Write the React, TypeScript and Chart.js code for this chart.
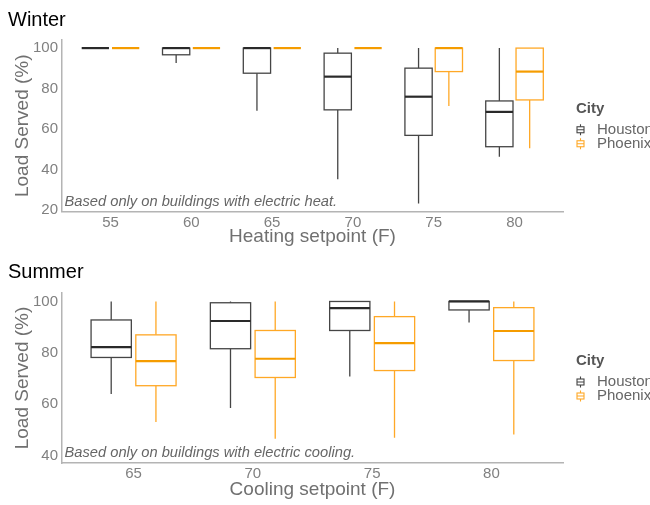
import { useEffect, useRef } from 'react';
import { Chart, registerables } from 'chart.js';

Chart.register(...registerables);

const FONT = '"Liberation Sans", Arial, Helvetica, sans-serif';

// ---------- Winter data ----------
const winterSetpoints = ['55', '60', '65', '70', '75', '80'];
const winterHoustonLow = [100, 92.6, 69.1, 35.2, 23.3, 46.4];
const winterHoustonQ1 = [100, 96.7, 87.6, 69.5, 56.9, 51.3];
const winterHoustonMedian = [100, 100, 100, 85.9, 76.0, 68.5];
const winterHoustonQ3 = [100, 100, 100, 97.5, 90.1, 73.9];
const winterHoustonHigh = [100, 100, 100, 100, 100, 100];

const winterPhoenixLow = [100, 100, 100, 100, 71.4, 50.5];
const winterPhoenixQ1 = [100, 100, 100, 100, 88.4, 74.4];
const winterPhoenixMedian = [100, 100, 100, 100, 100, 88.4];
const winterPhoenixQ3 = [100, 100, 100, 100, 100, 100];
const winterPhoenixHigh = [100, 100, 100, 100, 100, 100];

const winterYTicks = [20, 40, 60, 80, 100];

// ---------- Summer data ----------
const summerSetpoints = ['65', '70', '75', '80'];
const summerHoustonLow = [64.0, 58.5, 70.8, 91.8];
const summerHoustonQ1 = [78.2, 81.6, 88.7, 96.7];
const summerHoustonMedian = [82.2, 92.4, 97.4, 100];
const summerHoustonQ3 = [92.8, 99.5, 100, 100];
const summerHoustonHigh = [100, 100, 100, 100];

const summerPhoenixLow = [53.1, 46.5, 46.9, 48.2];
const summerPhoenixQ1 = [67.2, 70.4, 73.1, 77.0];
const summerPhoenixMedian = [76.8, 77.7, 83.8, 88.5];
const summerPhoenixQ3 = [87.0, 88.7, 94.1, 97.6];
const summerPhoenixHigh = [100, 100, 100, 100];

const summerYTicks = [40, 60, 80, 100];

const cities = ['Houston', 'Phoenix'];
const cityColors = ['#454545', '#FFA826'];
const cityMedianColors = ['#2a2a2a', '#F59C00'];

type Group = {
  label: string;
  color: string;
  medianColor: string;
  offset: number;
  low: number[];
  q1: number[];
  median: number[];
  q3: number[];
  high: number[];
};

type PanelCfg = {
  title: string;
  xTitle: string;
  note: string;
  noteY: number;
  cats: string[];
  yTicks: number[];
  yMin: number;
  yMax: number;
  groups: Group[];
  height: number;
  titlePad: { top: number; bottom: number };
  xAxisHeight: number;
  xTitlePadBottom: number;
};

const BOX_HALF = 0.16875;

function makeBoxPlugin(cfg: PanelCfg) {
  return {
    id: 'boxplotDraw',
    afterDatasetsDraw(chart: any) {
      const { ctx, chartArea } = chart;
      const x = chart.scales.x;
      const y = chart.scales.y;
      ctx.save();
      // annotation text
      ctx.font = `italic 14.7px ${FONT}`;
      ctx.fillStyle = '#666666';
      ctx.textAlign = 'left';
      ctx.textBaseline = 'middle';
      ctx.fillText(cfg.note, chartArea.left + 2.5, y.getPixelForValue(cfg.noteY));

      cfg.groups.forEach((g) => {
        g.median.forEach((_, i) => {
          const xv = i + 1 + g.offset;
          const xc = x.getPixelForValue(xv);
          const xl = x.getPixelForValue(xv - BOX_HALF);
          const xr = x.getPixelForValue(xv + BOX_HALF);
          const pLow = y.getPixelForValue(g.low[i]);
          const pQ1 = y.getPixelForValue(g.q1[i]);
          const pMed = y.getPixelForValue(g.median[i]);
          const pQ3 = y.getPixelForValue(g.q3[i]);
          const pHigh = y.getPixelForValue(g.high[i]);
          ctx.strokeStyle = g.color;
          ctx.lineWidth = 1.3;
          // whiskers
          ctx.beginPath();
          if (pLow - pQ1 > 0.5) {
            ctx.moveTo(xc, pQ1);
            ctx.lineTo(xc, pLow);
          }
          if (pQ3 - pHigh > 0.5) {
            ctx.moveTo(xc, pQ3);
            ctx.lineTo(xc, pHigh);
          }
          ctx.stroke();
          // box
          if (pQ1 - pQ3 > 0.5) {
            ctx.fillStyle = '#ffffff';
            ctx.fillRect(xl, pQ3, xr - xl, pQ1 - pQ3);
            ctx.strokeRect(xl, pQ3, xr - xl, pQ1 - pQ3);
          }
          // median
          ctx.strokeStyle = g.medianColor;
          ctx.lineWidth = 2.2;
          ctx.beginPath();
          ctx.moveTo(xl, pMed);
          ctx.lineTo(xr, pMed);
          ctx.stroke();
        });
      });
      ctx.restore();
    },
    afterDraw(chart: any) {
      const { ctx, chartArea } = chart;
      const cy = (chartArea.top + chartArea.bottom) / 2;
      const lx = chartArea.right + 13;
      ctx.save();
      ctx.textAlign = 'left';
      ctx.textBaseline = 'middle';
      ctx.font = `bold 15px ${FONT}`;
      ctx.fillStyle = '#555555';
      ctx.fillText('City', lx, cy - 17);
      cities.forEach((c, k) => {
        const iy = cy + 4 + k * 14;
        const ix = lx + 4.5;
        ctx.strokeStyle = cityColors[k];
        ctx.lineWidth = 1.1;
        ctx.beginPath();
        ctx.moveTo(ix, iy - 5.5);
        ctx.lineTo(ix, iy - 3);
        ctx.moveTo(ix, iy + 3);
        ctx.lineTo(ix, iy + 5.5);
        ctx.moveTo(ix - 3.5, iy);
        ctx.lineTo(ix + 3.5, iy);
        ctx.stroke();
        ctx.strokeRect(ix - 3.5, iy - 3, 7, 6);
        ctx.font = `15px ${FONT}`;
        ctx.fillStyle = '#666666';
        ctx.fillText(c, lx + 21, iy);
      });
      ctx.restore();
    },
  };
}

function Panel({ cfg }: { cfg: PanelCfg }) {
  const ref = useRef<HTMLCanvasElement | null>(null);
  useEffect(() => {
    if (!ref.current) return;
    const chart = new Chart(ref.current, {
      type: 'scatter',
      data: {
        datasets: cfg.groups.map((g) => ({
          label: g.label,
          data: [],
          borderColor: g.color,
          backgroundColor: g.color,
        })),
      },
      options: {
        animation: false,
        responsive: false,
        devicePixelRatio: 1,
        layout: { padding: { left: 8, right: 87, top: 0, bottom: 0 } },
        plugins: {
          legend: { display: false },
          tooltip: { enabled: false },
          title: {
            display: true,
            text: cfg.title,
            align: 'start',
            color: '#000000',
            font: { family: FONT, size: 20, weight: 'normal' },
            padding: cfg.titlePad,
          },
        },
        scales: {
          x: {
            type: 'linear',
            min: 0.4,
            max: cfg.cats.length + 0.6,
            afterBuildTicks: (s: any) => {
              s.ticks = cfg.cats.map((_, i) => ({ value: i + 1 }));
            },
            afterFit: (s: any) => {
              s.height = cfg.xAxisHeight;
            },
            ticks: {
              callback: (v: any) => cfg.cats[Math.round(v) - 1] ?? '',
              font: { family: FONT, size: 15 },
              color: '#808080',
              padding: 2,
              autoSkip: false,
              maxRotation: 0,
            },
            grid: { display: false, drawTicks: false },
            border: { display: true, color: '#b4b4b4', width: 1.5 },
            title: {
              display: true,
              text: cfg.xTitle,
              color: '#707070',
              font: { family: FONT, size: 19 },
              padding: { top: 0, bottom: cfg.xTitlePadBottom },
            },
          },
          y: {
            type: 'linear',
            min: cfg.yMin,
            max: cfg.yMax,
            afterBuildTicks: (s: any) => {
              s.ticks = cfg.yTicks.map((v) => ({ value: v }));
            },
            afterFit: (s: any) => {
              s.width = 54;
            },
            ticks: {
              font: { family: FONT, size: 15 },
              color: '#808080',
              padding: 4,
            },
            grid: { display: false, drawTicks: false },
            border: { display: true, color: '#b4b4b4', width: 1.5 },
            title: {
              display: true,
              text: 'Load Served (%)',
              color: '#707070',
              font: { family: FONT, size: 19 },
              padding: { top: 3, bottom: 0 },
            },
          },
        },
      },
      plugins: [makeBoxPlugin(cfg)],
    } as any);
    return () => chart.destroy();
  }, [cfg]);
  return (
    <canvas
      ref={ref}
      width={650}
      height={cfg.height}
      style={{ display: 'block', width: 650, height: cfg.height }}
    />
  );
}

const winterCfg: PanelCfg = {
  title: 'Winter',
  xTitle: 'Heating setpoint (F)',
  note: 'Based only on buildings with electric heat.',
  noteY: 24.1,
  cats: winterSetpoints,
  yTicks: winterYTicks,
  yMin: 19.3,
  yMax: 104,
  height: 250,
  titlePad: { top: 8, bottom: 8 },
  xAxisHeight: 38.5,
  xTitlePadBottom: 1.5,
  groups: [
    {
      label: cities[0], color: cityColors[0], medianColor: cityMedianColors[0], offset: -0.1875,
      low: winterHoustonLow, q1: winterHoustonQ1, median: winterHoustonMedian,
      q3: winterHoustonQ3, high: winterHoustonHigh,
    },
    {
      label: cities[1], color: cityColors[1], medianColor: cityMedianColors[1], offset: 0.1875,
      low: winterPhoenixLow, q1: winterPhoenixQ1, median: winterPhoenixMedian,
      q3: winterPhoenixQ3, high: winterPhoenixHigh,
    },
  ],
};

const summerCfg: PanelCfg = {
  title: 'Summer',
  xTitle: 'Cooling setpoint (F)',
  note: 'Based only on buildings with electric cooling.',
  noteY: 41.2,
  cats: summerSetpoints,
  yTicks: summerYTicks,
  yMin: 37.1,
  yMax: 103.3,
  height: 255,
  titlePad: { top: 10.5, bottom: 8.5 },
  xAxisHeight: 42,
  xTitlePadBottom: 3.5,
  groups: [
    {
      label: cities[0], color: cityColors[0], medianColor: cityMedianColors[0], offset: -0.1875,
      low: summerHoustonLow, q1: summerHoustonQ1, median: summerHoustonMedian,
      q3: summerHoustonQ3, high: summerHoustonHigh,
    },
    {
      label: cities[1], color: cityColors[1], medianColor: cityMedianColors[1], offset: 0.1875,
      low: summerPhoenixLow, q1: summerPhoenixQ1, median: summerPhoenixMedian,
      q3: summerPhoenixQ3, high: summerPhoenixHigh,
    },
  ],
};

export default function App() {
  return (
    <div
      style={{
        position: 'absolute',
        left: 0,
        top: 0,
        width: 650,
        height: 505,
        background: '#ffffff',
        overflow: 'hidden',
      }}
    >
      <Panel cfg={winterCfg} />
      <Panel cfg={summerCfg} />
    </div>
  );
}
